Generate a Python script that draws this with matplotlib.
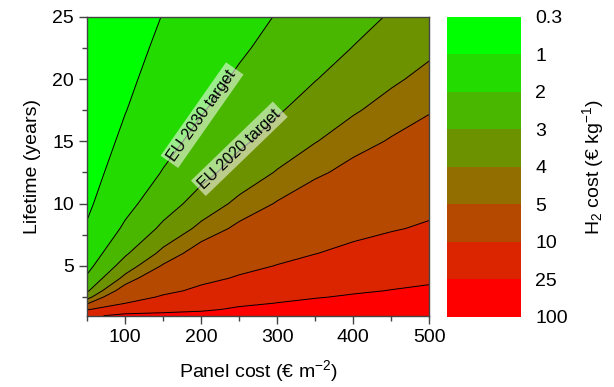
import numpy as np
import matplotlib
matplotlib.use("Agg")
import matplotlib.pyplot as plt

plt.rcParams['font.family'] = ['Liberation Sans', 'DejaVu Sans']
plt.rcParams['mathtext.default'] = 'regular'

# panel cost (EUR per m2) and lifetime (years) grid, H2 cost
panel_cost = [50, 100, 150, 200, 250, 300, 350, 400, 450, 500]
lifetime = [1, 1.5, 2, 2.5, 3, 4, 5, 6, 8, 10, 12.5, 15, 17.5, 20, 22.5, 25]
h2_cost = [
    [22.0, 29.0, 32.0, 34.0, 42.4, 50.9, 59.4, 68.0, 76.7, 85.5],
    [9.5, 16.0, 17.5, 21.5, 28.3, 33.9, 39.6, 45.3, 51.1, 57.0],
    [4.8, 10.0, 13.5, 17.0, 21.2, 25.45, 29.7, 34.0, 38.35, 42.75],
    [3.6, 6.88, 10.8, 13.6, 16.96, 20.36, 23.76, 27.2, 30.68, 34.2],
    [2.87, 5.73, 8.53, 11.33, 14.13, 16.97, 19.8, 22.67, 25.57, 28.5],
    [2.15, 4.3, 6.4, 8.5, 10.6, 12.73, 14.85, 17.0, 19.18, 21.38],
    [1.72, 3.44, 5.12, 6.8, 8.48, 10.18, 11.88, 13.6, 15.34, 17.1],
    [1.43, 2.87, 4.27, 5.67, 7.07, 8.48, 9.9, 11.33, 12.78, 14.25],
    [1.08, 2.15, 3.2, 4.25, 5.3, 6.36, 7.43, 8.5, 9.59, 10.69],
    [0.86, 1.72, 2.56, 3.4, 4.24, 5.09, 5.94, 6.8, 7.67, 8.55],
    [0.69, 1.38, 2.05, 2.72, 3.39, 4.07, 4.75, 5.44, 6.14, 6.84],
    [0.57, 1.15, 1.71, 2.27, 2.83, 3.39, 3.96, 4.53, 5.11, 5.7],
    [0.49, 0.98, 1.46, 1.94, 2.42, 2.91, 3.39, 3.89, 4.38, 4.89],
    [0.43, 0.86, 1.28, 1.7, 2.12, 2.55, 2.97, 3.4, 3.84, 4.28],
    [0.38, 0.76, 1.14, 1.51, 1.88, 2.26, 2.64, 3.02, 3.41, 3.8],
    [0.34, 0.69, 1.02, 1.36, 1.7, 2.04, 2.38, 2.72, 3.07, 3.42],
]

levels = [0.3, 1, 2, 3, 4, 5, 10, 25, 100]
level_labels = ['0.3', '1', '2', '3', '4', '5', '10', '25', '100']
band_colors = ['#00ff00', '#24db00', '#49b600', '#6d9200',
               '#926d00', '#b64900', '#db2400', '#ff0000']

X, Y = np.meshgrid(panel_cost, lifetime)
Z = np.array(h2_cost)

fig = plt.figure(figsize=(6.14, 3.87), dpi=100)
ax = fig.add_axes([0.1422, 0.1842, 0.557, 0.7726])
cax = fig.add_axes([0.7288, 0.181, 0.1205, 0.7758])

cf = ax.contourf(X, Y, Z, levels=levels, colors=band_colors)
ax.contour(X, Y, Z, levels=levels[1:-1], colors='black', linewidths=0.7)

ax.set_xlim(50, 500)
ax.set_ylim(1, 25)
ax.set_xticks([100, 200, 300, 400, 500])
ax.set_xticks([50, 150, 250, 350, 450], minor=True)
ax.set_yticks([5, 10, 15, 20, 25])
ax.set_yticks([2.5, 7.5, 12.5, 17.5, 22.5], minor=True)
ax.tick_params(which='major', length=6, width=1, labelsize=14, color='#444444')
ax.tick_params(which='minor', length=3.5, width=1, color='#444444')
for s in ax.spines.values():
    s.set_color('#444444')
    s.set_linewidth(1)

ax.set_xlabel('Panel cost (€ m$^{-2}$)', fontsize=14, labelpad=9)
ax.set_ylabel('Lifetime (years)', fontsize=14, labelpad=8)

# target annotations along the 2 and 3 EUR/kg lines
box = dict(boxstyle='square,pad=0.2', fc='white', ec='none', alpha=0.55)
ax.text(201, 17.1, 'EU 2030 target', rotation=55, fontsize=11.5,
        ha='center', va='center', bbox=box)
ax.text(250, 14.4, 'EU 2020 target', rotation=44, fontsize=11.5,
        ha='center', va='center', bbox=box)

cbar = fig.colorbar(cf, cax=cax)
cbar.set_ticks(levels)
cbar.set_ticklabels(level_labels)
cbar.ax.invert_yaxis()
cbar.ax.tick_params(length=0, labelsize=14, pad=10)
cbar.outline.set_visible(False)
cbar.set_label('H$_2$ cost (€ kg$^{-1}$)', fontsize=14)
cbar.ax.yaxis.set_label_coords(1.79, 0.5)

fig.savefig('out.png', dpi=100)
